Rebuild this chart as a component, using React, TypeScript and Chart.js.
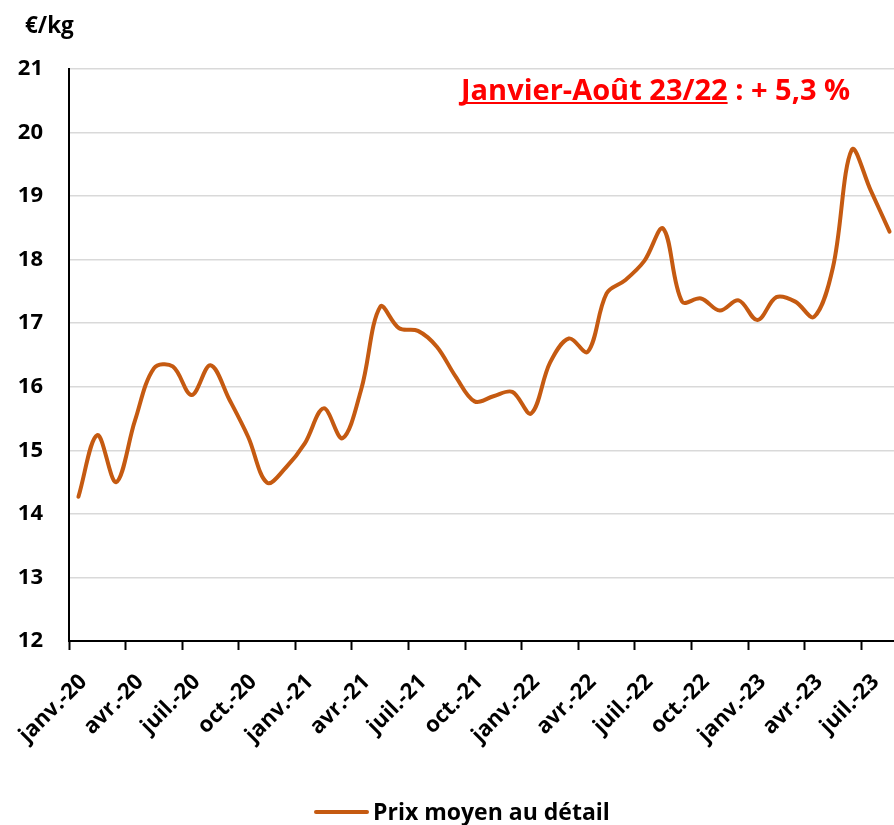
import React, { useEffect, useRef } from "react";
import { Chart, registerables } from "chart.js";

Chart.register(...registerables);

const months = [
  "janv.-20", "févr.-20", "mars-20", "avr.-20", "mai-20", "juin-20", "juil.-20", "août-20", "sept.-20", "oct.-20", "nov.-20", "déc.-20",
  "janv.-21", "févr.-21", "mars-21", "avr.-21", "mai-21", "juin-21", "juil.-21", "août-21", "sept.-21", "oct.-21", "nov.-21", "déc.-21",
  "janv.-22", "févr.-22", "mars-22", "avr.-22", "mai-22", "juin-22", "juil.-22", "août-22", "sept.-22", "oct.-22", "nov.-22", "déc.-22",
  "janv.-23", "févr.-23", "mars-23", "avr.-23", "mai-23", "juin-23", "juil.-23", "août-23",
];

const prixMoyen = [
  14.27, 15.24, 14.5, 15.47, 16.29, 16.32, 15.87, 16.34, 15.8, 15.21, 14.49, 14.73,
  15.11, 15.66, 15.19, 15.97, 17.26, 16.92, 16.88, 16.63, 16.16, 15.77, 15.85, 15.92,
  15.58, 16.38, 16.76, 16.55, 17.47, 17.68, 17.98, 18.49, 17.34, 17.39, 17.2, 17.36,
  17.05, 17.41, 17.34, 17.1, 17.88, 19.73, 19.09, 18.44,
];

const seriesName = "Prix moyen au détail";
const unitLabel = "€/kg";
const noteUnderlined = "Janvier-Août 23/22";
const noteRest = " : + 5,3 %";

const FONT = "'Open Sans', 'DejaVu Sans', sans-serif";
const LINE_COLOR = "#C55A11";

export default function App() {
  const ref = useRef<HTMLCanvasElement | null>(null);

  useEffect(() => {
    if (!ref.current) return;
    const textPlugin = {
      id: "texts",
      afterDraw(chart: any) {
        const ctx = chart.ctx as CanvasRenderingContext2D;
        ctx.save();
        ctx.fillStyle = "#000";
        ctx.font = `bold 22.5px ${FONT}`;
        ctx.textAlign = "left";
        ctx.textBaseline = "alphabetic";
        ctx.fillText(unitLabel, 25, 33);

        ctx.fillStyle = "#FF0000";
        ctx.font = `bold 29px ${FONT}`;
        const x0 = 461;
        const yb = 100;
        ctx.fillText(noteUnderlined, x0, yb);
        const w = ctx.measureText(noteUnderlined).width;
        ctx.fillRect(x0, yb + 2, w, 2);
        ctx.fillText(noteRest, x0 + w, yb);

        ctx.strokeStyle = LINE_COLOR;
        ctx.lineWidth = 4;
        ctx.lineCap = "round";
        ctx.beginPath();
        ctx.moveTo(316, 812);
        ctx.lineTo(367, 812);
        ctx.stroke();
        ctx.fillStyle = "#000";
        ctx.font = `bold 23px ${FONT}`;
        ctx.fillText(seriesName, 373, 820);
        ctx.restore();
      },
    };

    const chart = new Chart(ref.current, {
      type: "line",
      data: {
        labels: months,
        datasets: [
          {
            label: seriesName,
            data: prixMoyen,
            borderColor: LINE_COLOR,
            backgroundColor: LINE_COLOR,
            borderWidth: 4,
            pointRadius: 0,
            tension: 0.35,
            fill: false,
            borderCapStyle: "round",
          },
        ],
      },
      options: {
        animation: false,
        responsive: false,
        layout: { padding: { top: 69, right: 1, left: 0, bottom: 0 } },
        plugins: {
          legend: { display: false },
          title: { display: false },
          tooltip: { enabled: false },
        },
        scales: {
          x: {
            type: "category",
            offset: true,
            afterFit(scale: any) {
              scale.height = 184;
              scale.paddingLeft = 0;
              scale.paddingRight = 0;
            },
            grid: {
              offset: true,
              drawOnChartArea: false,
              drawTicks: true,
              tickLength: 9,
              tickWidth: 2,
              tickColor: (c: any) => (typeof c.index === "number" && c.index % 3 === 0 ? "#000" : "rgba(0,0,0,0)"),
            },
            border: { display: true, color: "#000", width: 2 },
            ticks: {
              autoSkip: false,
              minRotation: 45,
              maxRotation: 45,
              padding: 19,
              labelOffset: 5,
              color: "#000",
              font: { family: FONT, size: 22, weight: "bold" },
              callback: (_v: any, i: number) => (i % 3 === 0 ? months[i] : ""),
            },
          },
          y: {
            min: 12,
            max: 21,
            afterFit(scale: any) {
              scale.width = 69;
              scale.paddingTop = 0;
              scale.paddingBottom = 0;
            },
            grid: {
              color: (c: any) => (c.tick && c.tick.value === 12 ? "rgba(0,0,0,0)" : "#D9D9D9"),
              lineWidth: 1.5,
              drawTicks: false,
              tickLength: 0,
            },
            border: { display: true, color: "#000", width: 2 },
            ticks: {
              stepSize: 1,
              padding: 26,
              color: "#000",
              font: { family: FONT, size: 22, weight: "bold" },
            },
          },
        },
      },
      plugins: [textPlugin],
    } as any);
    return () => chart.destroy();
  }, []);

  return (
    <div
      style={{
        position: "fixed",
        left: 0,
        top: 0,
        width: 894,
        height: 825,
        overflow: "hidden",
        background: "#fff",
      }}
    >
      <canvas ref={ref} width={900} height={825} style={{ width: 900, height: 825, display: "block" }} />
    </div>
  );
}
